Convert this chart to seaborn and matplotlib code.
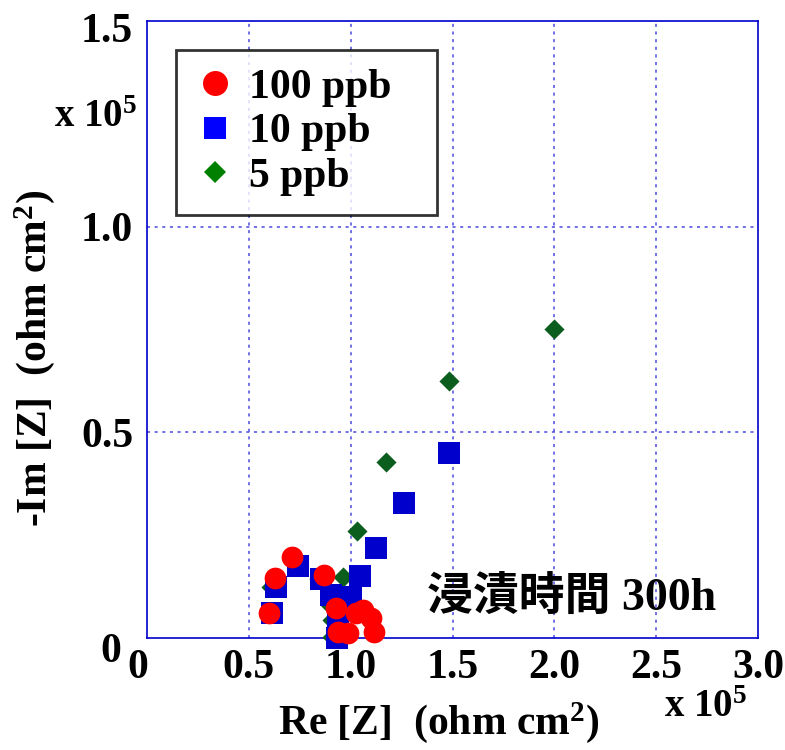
import numpy as np
import pandas as pd
import matplotlib
matplotlib.use("Agg")
import matplotlib.pyplot as plt
from matplotlib.lines import Line2D
from matplotlib.transforms import ScaledTranslation
import seaborn as sns

# ---------------- data (Re, -Im in units of 1e5 ohm cm2) ----------------
re_100 = [0.60, 0.63, 0.71, 0.87, 0.926, 0.936, 0.985, 1.025, 1.059, 1.098, 1.113]
im_100 = [0.062, 0.147, 0.197, 0.153, 0.073, 0.015, 0.012, 0.061, 0.068, 0.049, 0.015]

re_10 = [0.613, 0.632, 0.74, 0.853, 0.902, 0.94, 0.94, 0.935, 1.00, 1.044, 1.123, 1.26, 1.485]
im_10 = [0.061, 0.124, 0.175, 0.143, 0.104, 0.07, 0.035, 0.0, 0.10, 0.15, 0.218, 0.328, 0.449]

re_5 = [0.61, 0.845, 0.90, 0.91, 0.91, 0.961, 1.029, 1.172, 1.485, 2.0]
im_5 = [0.124, 0.143, 0.08, 0.044, 0.003, 0.148, 0.26, 0.427, 0.626, 0.752]

series_names = ["100 ppb", "10 ppb", "5 ppb"]
x_ticks = [0, 0.5, 1.0, 1.5, 2.0, 2.5, 3.0]
x_tick_labels = ["0", "0.5", "1.0", "1.5", "2.0", "2.5", "3.0"]
y_ticks = [0, 0.5, 1.0, 1.5]
y_tick_labels = ["0", "0.5", "1.0", "1.5"]

df = pd.concat([
    pd.DataFrame({"Re": re_5, "Im": im_5, "conc": series_names[2]}),
    pd.DataFrame({"Re": re_10, "Im": im_10, "conc": series_names[1]}),
    pd.DataFrame({"Re": re_100, "Im": im_100, "conc": series_names[0]}),
], ignore_index=True)

# ---------------- style ----------------
sns.set_style("white")
plt.rcParams["font.family"] = ["Liberation Serif", "Noto Sans CJK JP", "DejaVu Sans"]
plt.rcParams["font.weight"] = "bold"
plt.rcParams["text.color"] = "black"
plt.rcParams["axes.labelcolor"] = "black"
plt.rcParams["xtick.color"] = "black"
plt.rcParams["ytick.color"] = "black"
plt.rcParams["mathtext.fontset"] = "custom"
plt.rcParams["mathtext.rm"] = "Liberation Serif:bold"
plt.rcParams["mathtext.it"] = "Liberation Serif:bold"
plt.rcParams["mathtext.bf"] = "Liberation Serif:bold"

FS = 30
AXC = "#0000cc"

fig = plt.figure(figsize=(7.85, 7.5), dpi=100)
ax = fig.add_axes([0.1873, 0.1493, 0.7783, 0.8227])

styles = {
    "5 ppb": dict(color="#0b5e1e", marker="D", s=105),
    "10 ppb": dict(color="#0000cc", marker="s", s=235),
    "100 ppb": dict(color="#ff0000", marker="o", s=245),
}
for name in ["5 ppb", "10 ppb", "100 ppb"]:
    sub = df[df["conc"] == name]
    st = styles[name]
    sns.scatterplot(data=sub, x="Re", y="Im", ax=ax, color=st["color"],
                    marker=st["marker"], s=st["s"], linewidth=0,
                    legend=False, zorder=3, clip_on=False)

ax.set_xlim(0, 3.0)
ax.set_ylim(0, 1.5)
ax.set_xticks(x_ticks)
ax.set_xticklabels(x_tick_labels)
ax.set_yticks(y_ticks)
ax.set_yticklabels(y_tick_labels)
ax.tick_params(axis="both", length=0, labelsize=FS, labelcolor="black")
ax.tick_params(axis="x", pad=8)
ax.tick_params(axis="y", pad=10)
for lab in ax.get_xticklabels() + ax.get_yticklabels():
    lab.set_fontweight("bold")

# small manual offsets of end labels as in the reference
xl = ax.get_xticklabels()
xl[0].set_transform(xl[0].get_transform() + ScaledTranslation(-9 / 100, 0, fig.dpi_scale_trans))
yl = ax.get_yticklabels()
yl[0].set_transform(yl[0].get_transform() + ScaledTranslation(-12 / 100, -9 / 100, fig.dpi_scale_trans))
yl[-1].set_transform(yl[-1].get_transform() + ScaledTranslation(0, -7 / 100, fig.dpi_scale_trans))

# grid
for v in [0.5, 1.0, 1.5, 2.0, 2.5]:
    ax.axvline(v, color="#4a4ae0", lw=1.1, ls=(0, (2, 3)), zorder=1)
for v in [0.5, 1.0]:
    ax.axhline(v, color="#4a4ae0", lw=1.1, ls=(0, (2, 3)), zorder=1)

for sp in ax.spines.values():
    sp.set_color(AXC)
    sp.set_linewidth(1.2)

ax.set_xlabel("Re [Z]  (ohm cm$^2$)", fontsize=FS, fontweight="bold", color="black")
ax.set_ylabel("-Im [Z]  (ohm cm$^2$)", fontsize=FS, fontweight="bold", color="black")
ax.xaxis.set_label_coords(0.478, -0.1)
ax.yaxis.set_label_coords(-0.147, 0.454)

ax.text(-0.016, 0.843, "x 10$^5$", transform=ax.transAxes, ha="right", va="center",
        fontsize=FS - 2, fontweight="bold")
ax.text(0.982, -0.113, "x 10$^5$", transform=ax.transAxes, ha="right", va="center",
        fontsize=FS - 2, fontweight="bold")
ax.text(0.458, 0.063, "浸漬時間 300h", transform=ax.transAxes, ha="left", va="center",
        fontsize=33, fontweight="bold",
        family=["Liberation Serif", "Noto Sans CJK JP"])

# legend
handles = [
    Line2D([], [], ls="none", marker="o", color="#ff0000", markersize=18, markeredgewidth=0),
    Line2D([], [], ls="none", marker="s", color="#0000ff", markersize=16.5, markeredgewidth=0),
    Line2D([], [], ls="none", marker="D", color="#008000", markersize=11, markeredgewidth=0),
]
leg = ax.legend(handles, series_names, loc="upper left",
                bbox_to_anchor=(0.047, 0.68, 0.427, 0.273), mode="expand",
                frameon=True, fancybox=False, prop={"size": FS, "weight": "bold"},
                handlelength=1.0, handletextpad=0.3, labelspacing=0.15,
                borderpad=0.45, borderaxespad=0)
leg.get_frame().set_edgecolor("black")
leg.get_frame().set_linewidth(2)

fig.savefig("out.png", dpi=100)
